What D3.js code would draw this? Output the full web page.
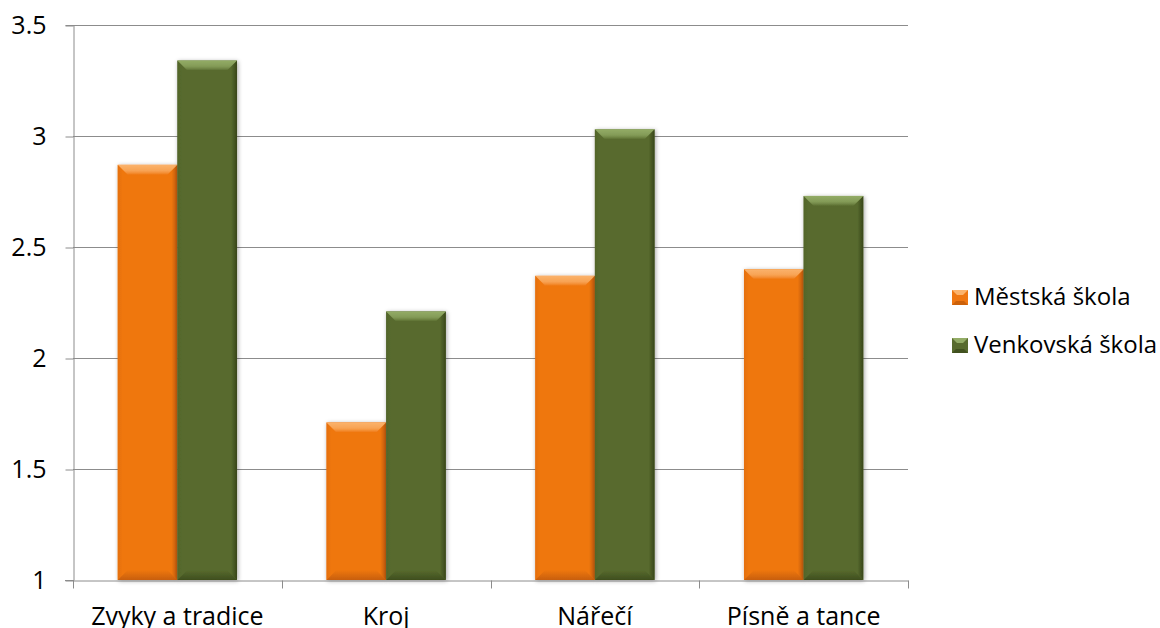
<!DOCTYPE html>
<html>
<head>
<meta charset="utf-8">
<script src="https://cdn.jsdelivr.net/npm/d3@7"></script>
<style>
  html, body { margin: 0; padding: 0; background: #fff; }
  svg { display: block; }
  text { font-family: "Open Sans", "Noto Sans", sans-serif; fill: #000; }
</style>
</head>
<body>
<svg id="chart" width="1160" height="628"></svg>
<script>
// Průměrné hodnocení podle typu školy
const categories = ["Zvyky a tradice", "Kroj", "Nářečí", "Písně a tance"];
const seriesNames = ["Městská škola", "Venkovská škola"];
const mestskaValues = [2.87, 1.71, 2.37, 2.40];
const venkovskaValues = [3.34, 2.21, 3.03, 2.73];
const yTicks = [1, 1.5, 2, 2.5, 3, 3.5];

const seriesValues = [mestskaValues, venkovskaValues];
const palette = [
  { face: "#EF7711", light: "#FBB36C", dark: "#BE5806", side: "#E06C0C" },
  { face: "#586B2E", light: "#93AC66", dark: "#38461A", side: "#4F6229" }
];

const svg = d3.select("#chart");
const plot = { left: 73, right: 908, top: 25, bottom: 580 };

const y = d3.scaleLinear().domain([1, 3.5]).range([plot.bottom, plot.top]);
const x0 = d3.scaleBand().domain(categories).range([plot.left, plot.right]).padding(0);
const x1 = d3.scaleBand().domain(seriesNames).range([0, x0.bandwidth()])
  .paddingInner(0).paddingOuter(0.75);

// Soft shadow around the bars
const defs = svg.append("defs");
const f = defs.append("filter").attr("id", "shadow")
  .attr("x", "-20%").attr("y", "-20%").attr("width", "140%").attr("height", "140%");
f.append("feDropShadow").attr("dx", 1).attr("dy", 1).attr("stdDeviation", 2)
  .attr("flood-color", "#000").attr("flood-opacity", 0.35);

palette.forEach((p, i) => {
  const g = defs.append("linearGradient").attr("id", "top" + i)
    .attr("x1", 0).attr("y1", 0).attr("x2", 0).attr("y2", 1);
  g.append("stop").attr("offset", "0%").attr("stop-color", p.light);
  g.append("stop").attr("offset", "55%").attr("stop-color", p.light).attr("stop-opacity", 0.75);
  g.append("stop").attr("offset", "100%").attr("stop-color", p.face);
  const gr = defs.append("linearGradient").attr("id", "right" + i)
    .attr("x1", 1).attr("y1", 0).attr("x2", 0).attr("y2", 0);
  gr.append("stop").attr("offset", "0%").attr("stop-color", p.dark);
  gr.append("stop").attr("offset", "100%").attr("stop-color", p.face);
  const gl = defs.append("linearGradient").attr("id", "left" + i)
    .attr("x1", 0).attr("y1", 0).attr("x2", 1).attr("y2", 0);
  gl.append("stop").attr("offset", "0%").attr("stop-color", p.side);
  gl.append("stop").attr("offset", "100%").attr("stop-color", p.face);
  const gb = defs.append("linearGradient").attr("id", "bottom" + i)
    .attr("x1", 0).attr("y1", 1).attr("x2", 0).attr("y2", 0);
  gb.append("stop").attr("offset", "0%").attr("stop-color", p.dark);
  gb.append("stop").attr("offset", "100%").attr("stop-color", p.face);
});

// Gridlines
const gridColor = "#8C8C8C";
svg.append("g").selectAll("line").data(yTicks.filter(t => t > 1)).join("line")
  .attr("x1", plot.left).attr("x2", plot.right)
  .attr("y1", d => y(d) + 0.5).attr("y2", d => y(d) + 0.5)
  .attr("stroke", gridColor).attr("stroke-width", 1);

// Y axis
const yAxis = svg.append("g").attr("transform", `translate(${plot.left + 0.5},0)`)
  .call(d3.axisLeft(y).tickValues(yTicks).tickFormat(d3.format("")).tickSize(8).tickPadding(19));
yAxis.select(".domain").attr("stroke", gridColor);
yAxis.selectAll(".tick line").attr("stroke", gridColor).attr("transform", "translate(0,0.5)");
yAxis.selectAll(".tick text").attr("font-size", 25).attr("font-family", "Open Sans").attr("fill", "#000");

// Bars with a bevelled look
const bev = 10;
const groups = svg.append("g").selectAll("g").data(categories).join("g")
  .attr("transform", d => `translate(${x0(d)},0)`);

seriesNames.forEach((name, si) => {
  const bars = groups.append("g").attr("filter", "url(#shadow)")
    .datum((c, ci) => ({ c, v: seriesValues[si][ci] }));
  const bx = x1(name), bw = x1.bandwidth();
  bars.append("rect")
    .attr("x", bx).attr("width", bw)
    .attr("y", d => y(d.v)).attr("height", d => y(1) - y(d.v))
    .attr("fill", palette[si].face);
  bars.append("polygon").attr("fill", `url(#left${si})`).attr("opacity", 0.7)
    .attr("points", d => {
      const t = y(d.v), b = y(1);
      return [[bx, t], [bx + bev * 0.5, t + bev * 0.5], [bx + bev * 0.5, b - bev * 0.5], [bx, b]].join(" ");
    });
  bars.append("polygon").attr("fill", `url(#right${si})`)
    .attr("points", d => {
      const t = y(d.v), b = y(1);
      return [[bx + bw, t], [bx + bw - bev * 0.6, t + bev * 0.6], [bx + bw - bev * 0.6, b - bev * 0.6], [bx + bw, b]].join(" ");
    });
  bars.append("polygon").attr("fill", `url(#bottom${si})`).attr("opacity", 0.8)
    .attr("points", d => {
      const b = y(1);
      return [[bx, b], [bx + bw, b], [bx + bw - bev, b - bev], [bx + bev, b - bev]].join(" ");
    });
  bars.append("polygon").attr("fill", `url(#top${si})`)
    .attr("points", d => {
      const t = y(d.v);
      return [[bx, t], [bx + bw, t], [bx + bw - bev, t + bev], [bx + bev, t + bev]].join(" ");
    });
});

// X axis
const xAxis = svg.append("g").attr("transform", `translate(0,${plot.bottom + 0.5})`)
  .call(d3.axisBottom(x0).tickSize(0).tickPadding(27));
xAxis.select(".domain").attr("stroke", gridColor);
xAxis.selectAll(".tick text").attr("font-size", 25).attr("font-family", "Open Sans").attr("fill", "#000");
// category separators
const seps = categories.map(c => x0(c)).concat([plot.right]);
xAxis.append("g").selectAll("line").data(seps).join("line")
  .attr("x1", d => Math.round(d) + 0.5).attr("x2", d => Math.round(d) + 0.5)
  .attr("y1", 0).attr("y2", 8).attr("stroke", gridColor);
xAxis.append("line").attr("x1", plot.left - 8).attr("x2", plot.left).attr("y1", 0).attr("y2", 0)
  .attr("stroke", gridColor);

// Legend
const legend = svg.append("g").attr("transform", "translate(952,290)");
seriesNames.forEach((name, i) => {
  const row = legend.append("g").attr("transform", `translate(0,${i * 48})`);
  row.append("rect").attr("width", 16).attr("height", 15).attr("fill", palette[i].face);
  row.append("polygon").attr("points", "0,0 16,0 11,5 5,5").attr("fill", palette[i].light);
  row.append("polygon").attr("points", "0,15 16,15 12,11 4,11").attr("fill", palette[i].dark).attr("opacity", 0.7);
  row.append("text").attr("x", 22).attr("y", 15).attr("font-size", 24).text(name);
});
</script>
</body>
</html>
